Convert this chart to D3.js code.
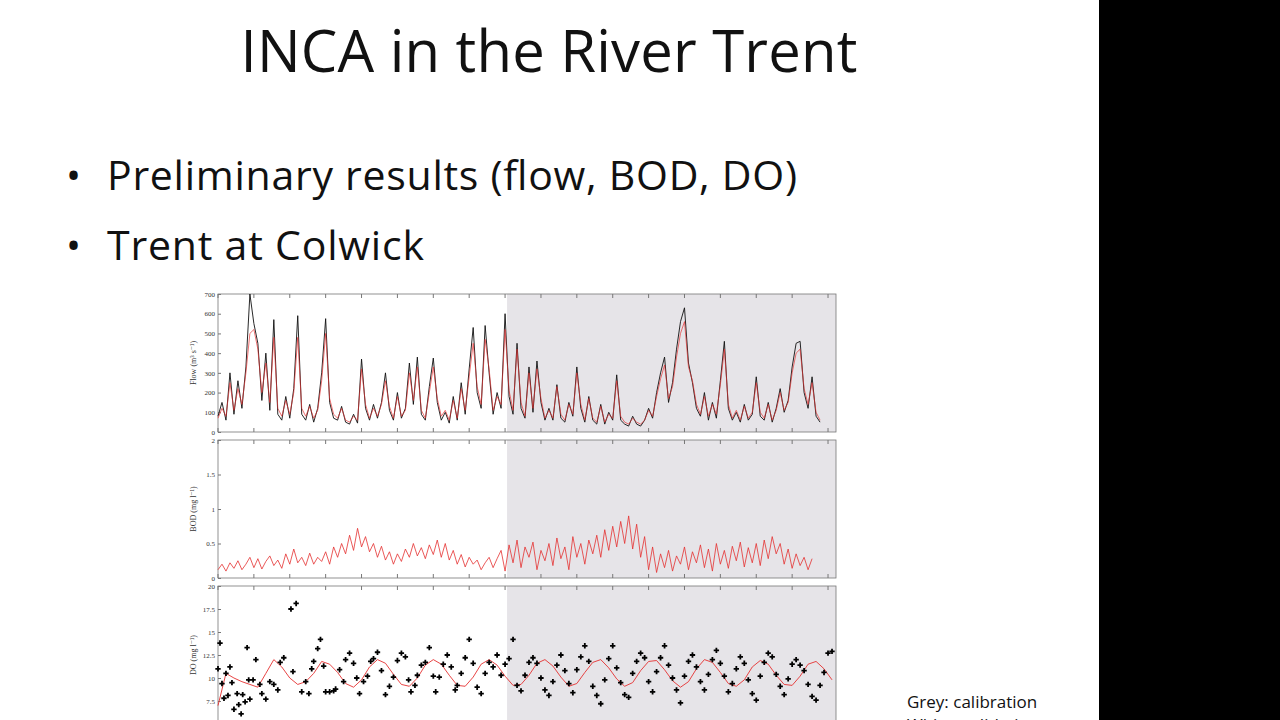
<!DOCTYPE html>
<html><head><meta charset="utf-8">
<script src="https://cdn.jsdelivr.net/npm/d3@7"></script>
<style>body{margin:0;background:#fff;overflow:hidden}</style>
</head><body>
<svg id="c" width="1280" height="720"></svg>
<script>
const flowObs=[80,150,60,300,90,260,120,330,700,550,450,160,400,110,570,90,60,180,70,220,590,90,60,140,50,120,300,575,150,70,60,130,50,40,90,45,370,120,60,140,70,150,300,110,60,200,70,120,350,140,380,90,60,230,375,150,60,100,45,180,60,250,90,320,530,200,120,540,300,90,200,120,600,180,90,450,120,70,330,100,360,150,60,120,60,240,70,50,150,80,330,120,50,180,60,40,140,40,100,60,290,60,40,30,80,40,30,60,120,70,200,300,380,150,250,420,560,630,350,250,120,80,200,60,150,70,260,460,120,60,100,50,140,60,90,280,80,60,150,50,120,220,100,160,330,450,460,200,120,280,80,50];
const flowMod=[70,120,80,250,110,220,140,300,500,520,420,200,350,150,480,120,80,160,90,200,480,120,80,130,70,110,260,500,170,90,70,120,60,50,80,60,320,140,70,120,80,140,260,130,70,180,80,110,300,160,330,110,70,200,330,170,80,110,60,160,70,220,110,280,450,230,140,470,320,110,180,140,520,210,110,420,150,80,300,120,320,170,70,110,70,230,90,60,140,90,300,140,60,170,70,50,130,50,90,70,260,80,50,40,70,50,40,60,110,80,180,270,340,170,230,380,500,560,330,260,140,90,180,80,140,90,240,420,140,70,110,60,130,70,100,250,100,70,140,60,110,200,110,150,300,400,420,220,140,250,100,60];
const bod=[0.12,0.2,0.1,0.22,0.14,0.25,0.12,0.2,0.3,0.15,0.28,0.13,0.24,0.32,0.18,0.26,0.14,0.35,0.2,0.42,0.22,0.3,0.18,0.36,0.2,0.3,0.24,0.38,0.2,0.45,0.3,0.5,0.35,0.62,0.4,0.72,0.45,0.6,0.38,0.5,0.3,0.46,0.26,0.38,0.2,0.35,0.24,0.42,0.3,0.5,0.32,0.44,0.28,0.48,0.34,0.55,0.3,0.5,0.26,0.4,0.2,0.34,0.16,0.3,0.2,0.26,0.12,0.22,0.3,0.15,0.28,0.4,0.1,0.48,0.22,0.55,0.15,0.45,0.3,0.52,0.12,0.4,0.25,0.5,0.18,0.58,0.28,0.45,0.12,0.6,0.3,0.5,0.2,0.55,0.35,0.62,0.3,0.7,0.4,0.75,0.45,0.82,0.5,0.9,0.42,0.78,0.3,0.6,0.12,0.45,0.08,0.35,0.15,0.4,0.1,0.32,0.2,0.45,0.12,0.38,0.22,0.48,0.15,0.42,0.1,0.5,0.2,0.4,0.14,0.46,0.25,0.52,0.16,0.44,0.22,0.5,0.18,0.55,0.28,0.6,0.35,0.5,0.2,0.42,0.14,0.35,0.18,0.3,0.12,0.28];
const doMod=[7,10.5,10,9.6,9.3,9,10.5,12,11.2,10,9.3,9.6,10.5,11.8,11.5,10.6,9.4,9,9.8,11.2,12,11.6,10.4,9.3,9.1,10,11.4,12,11.5,10.3,9.2,9.1,10.1,11.5,12,11.4,10.2,9.2,9.3,10.3,11.6,12,11.3,10.1,9.1,9.4,10.6,11.7,12,11.1,9.9,9.1,9.5,10.8,11.8,11.9,10.9,9.7,9,9.6,11,12,11.7,10.6,9.4,9.1,9.8,11.2,11.9,11.5,10.3,9.3,9.2,10.2,11.5,11.8,11,9.8];
const doObs=[[0,11],[0.5,13.8],[1,9.4],[1.5,7.8],[2,10.5],[2.5,8.1],[3,11.2],[3.5,9.5],[4,6.6],[4.8,8.3],[5.2,7.1],[5.8,6.1],[6.2,8.2],[6.8,7.4],[7.3,13.3],[7.7,9.8],[8,7.7],[8.8,9.8],[9.5,12],[10.5,9.3],[11,8.3],[12,7.7],[13,9.6],[14,9.3],[15,8.7],[15.6,11.7],[16.5,12.2],[18.3,17.5],[18.8,10.7],[19.6,18.1],[21,8.5],[22,9.6],[22.8,8.3],[23.5,11],[24,11.8],[25,13.2],[25.7,14.2],[26.5,11.3],[27,8.5],[28,8.5],[29,8.6],[29.5,8.8],[30.5,10.9],[31.5,9.6],[32,12],[33,12.7],[34,11.6],[34.8,10],[35.5,8.3],[36.5,9.6],[37.5,10.2],[38.3,11.8],[39,12.1],[40,12.8],[41,10.8],[42,8.2],[43,9.1],[44,10.1],[45,11.9],[46,12.7],[47,12.3],[47.8,9.8],[48.4,8.5],[49.4,9.2],[50,10.3],[51,11.4],[52,11.7],[53,13.3],[54,10.2],[54.6,8.5],[55.5,10.1],[56.5,11.5],[57.5,12.5],[58.5,11.2],[59.5,8.7],[60,9.2],[61,10.5],[62,12.2],[63,14.2],[64,11.6],[65,9],[66,8.3],[67,10.5],[68,11.7],[69,11.2],[70,12.5],[71,10.3],[72,11.5],[73,12.1],[74,14.2],[75,9.2],[76,8.6],[77,10.3],[78,11.7],[79,12.2],[80,11.6],[81,10],[82,8.7],[83,8.1],[84,9.6],[85,11.4],[86,12.5],[87,10.8],[88,9.4],[89,8.4],[90,10.9],[91,12.3],[92,13.5],[93,11.8],[94,9.1],[95,8.1],[96,7.2],[97,9.8],[98,12.1],[99,13.5],[100,11.1],[101,9.5],[102,8.2],[103,7.9],[104,10.5],[105,11.8],[106,12.7],[107,12.2],[108,9.6],[109,8.5],[110,10.7],[111,12.2],[112,13.5],[113,11.4],[114,10],[115,8.7],[116,7.3],[117,10.2],[118,11.8],[119,12.5],[120,11.2],[121,9.6],[122,8.7],[123,10.4],[124,12],[125,13],[126,11.6],[127,10.2],[128,8.5],[129,9.4],[130,11],[131,12.3],[132,11.6],[133,9.8],[134,8.3],[135,7.6],[136,10.2],[137,11.7],[138,12.7],[139,12.3],[140,10.4],[141,9.1],[142,8.2],[143,9.9],[144,11.5],[145,12],[146,11.4],[147,10.8],[148,9.3],[149,8],[150,7.6],[151,9.2],[152,10.6],[153,12.7],[154,12.9]];
const flowTicks=[0,100,200,300,400,500,600,700];
const bodTicks=[0,0.5,1,1.5,2];
const doTicks=[7.5,10,12.5,15,17.5,20];

const svg=d3.select("#c");
svg.append("rect").attr("x",1099).attr("y",0).attr("width",181).attr("height",720).attr("fill","#000");
const F="'Open Sans',Calibri,Carlito,sans-serif";
svg.append("text").attr("x",549).attr("y",72).attr("text-anchor","middle").attr("font-family",F).attr("font-size",58).attr("fill","#111").attr("textLength",617).text("INCA in the River Trent");
[["Preliminary results (flow, BOD, DO)",190,690],["Trent at Colwick",260,317]].forEach(([t,y,w])=>{
  svg.append("text").attr("x",66).attr("y",y).attr("font-family",F).attr("font-size",40).attr("fill","#111").text("•");
  svg.append("text").attr("x",107).attr("y",y).attr("font-family",F).attr("font-size",41).attr("fill","#111").attr("textLength",w).text(t);
});
svg.append("text").attr("x",907).attr("y",708).attr("font-family",F).attr("font-size",17).attr("fill","#111").text("Grey: calibration");
svg.append("text").attr("x",907).attr("y",731).attr("font-family",F).attr("font-size",17).attr("fill","#111").text("White: validation");

const x=d3.scaleLinear().domain([0,155]).range([218,836]);
const calStart=72.5;
const S="'Liberation Serif','DejaVu Serif',serif";
function panel(y0,y1,dom,ticks,label){
  const y=d3.scaleLinear().domain(dom).range([y1,y0]);
  const g=svg.append("g");
  const cp="cp"+y0;
  svg.append("clipPath").attr("id",cp).append("rect").attr("x",214).attr("y",y0-3).attr("width",626).attr("height",y1-y0+6);
  g.append("rect").attr("x",x(calStart)).attr("y",y0).attr("width",836-x(calStart)).attr("height",y1-y0).attr("fill","#e6e4e8");
  g.append("rect").attr("x",218).attr("y",y0).attr("width",618).attr("height",y1-y0).attr("fill","none").attr("stroke","#777").attr("stroke-width",0.8);
  const ax=g.append("g").attr("transform","translate(218,0)").call(d3.axisLeft(y).tickValues(ticks).tickSize(-3).tickFormat(d=>d));
  ax.select(".domain").remove();
  ax.selectAll("text").attr("font-family",S).attr("font-size",7).attr("fill","#333").attr("x",-3);
  ax.selectAll("line").attr("stroke","#777");
  const xt=d3.range(0,156,9);
  g.selectAll(null).data(xt).join("line").attr("x1",d=>x(d)).attr("x2",d=>x(d)).attr("y1",y0).attr("y2",y0+4).attr("stroke","#777");
  g.selectAll(null).data(xt).join("line").attr("x1",d=>x(d)).attr("x2",d=>x(d)).attr("y1",y1).attr("y2",y1-4).attr("stroke","#777");
  g.append("text").attr("transform",`translate(196,${(y0+y1)/2}) rotate(-90)`).attr("text-anchor","middle").attr("font-family",S).attr("font-size",8).attr("fill","#333").text(label);
  return {y,g,cp};
}
const p1=panel(294,432,[0,700],flowTicks,"Flow (m³ s⁻¹)");
const l1=d3.line().x((d,i)=>x(i)).y(d=>p1.y(d));
p1.g.append("path").attr("d",l1(flowObs)).attr("fill","none").attr("stroke","#111").attr("stroke-width",0.9);
p1.g.append("path").attr("d",l1(flowMod)).attr("fill","none").attr("stroke","#e53030").attr("stroke-width",0.8).attr("opacity",0.85);
const p2=panel(440,578,[0,2],bodTicks,"BOD (mg l⁻¹)");
const l2=d3.line().x((d,i)=>x(i)).y(d=>p2.y(d));
p2.g.append("path").attr("d",l2(bod)).attr("fill","none").attr("stroke","#e53030").attr("stroke-width",0.8);
const p3=panel(586,724,[5,20],doTicks,"DO (mg l⁻¹)");
const l3=d3.line().x((d,i)=>x(i*2)).y(d=>p3.y(d));
p3.g.append("path").attr("d",l3(doMod)).attr("fill","none").attr("stroke","#e53030").attr("stroke-width",0.9);
p3.g.append("g").attr("clip-path",`url(#${p3.cp})`).selectAll(null).data(doObs).join("path")
  .attr("d",d3.symbol(d3.symbolCross,16)).attr("transform",d=>`translate(${x(d[0])},${p3.y(d[1])})`).attr("fill","#000");
</script>
</body></html>
